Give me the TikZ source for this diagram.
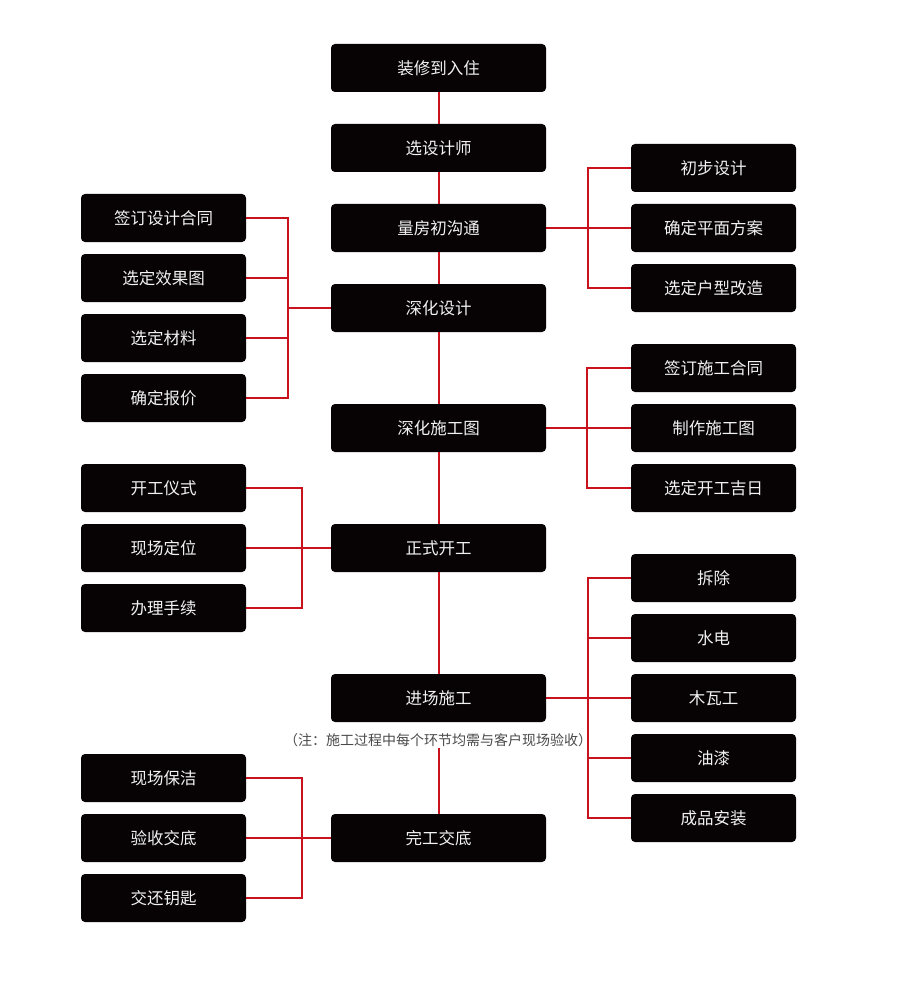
\documentclass[tikz,border=0pt]{standalone}
\usepackage{fontspec}
\setmainfont{Noto Sans CJK SC}
\usetikzlibrary{positioning}
\definecolor{boxfill}{HTML}{070305}
\definecolor{boxtext}{HTML}{F2F2F2}
\definecolor{red}{HTML}{C8121E}
\definecolor{muted}{HTML}{4A4A4A}

\begin{document}
\begin{tikzpicture}[x=1pt,y=-1pt,inner sep=0pt,
  stage/.style={fill=boxfill,rounded corners=4pt,minimum width=215pt,minimum height=48pt,text=boxtext,font=\fontsize{16.5}{18}\selectfont},
  task/.style={stage,minimum width=165pt},
  link/.style={draw=red,line width=2pt}]
  \useasboundingbox[fill=white] (0,0) rectangle (900,1000);
  % bus positions
  \coordinate (busA) at (588,0);
  \coordinate (busB) at (288,0);
  \coordinate (busC) at (587,0);
  \coordinate (busD) at (302,0);
  % main column
  \node[stage] (zx) at (438.5,68) {装修到入住};
  \node[stage] (xs) at (438.5,148) {选设计师};
  \node[stage] (lf) at (438.5,228) {量房初沟通};
  \node[stage] (sj) at (438.5,308) {深化设计};
  \node[stage] (st) at (438.5,428) {深化施工图};
  \node[stage] (kg) at (438.5,548) {正式开工};
  \node[stage] (jc) at (438.5,698) {进场施工};
  \node[font=\fontsize{14}{16}\selectfont,text=muted,inner sep=1pt] (note) at (438,740) {（注：施工过程中每个环节均需与客户现场验收）};
  \node[stage] (wg) at (438.5,838) {完工交底};
  % right column
  \node[task] (r1) at (713.5,168) {初步设计};
  \node[task] (r2) at (713.5,228) {确定平面方案};
  \node[task] (r3) at (713.5,288) {选定户型改造};
  \node[task] (r4) at (713.5,368) {签订施工合同};
  \node[task] (r5) at (713.5,428) {制作施工图};
  \node[task] (r6) at (713.5,488) {选定开工吉日};
  \node[task] (r7) at (713.5,578) {拆除};
  \node[task] (r8) at (713.5,638) {水电};
  \node[task] (r9) at (713.5,698) {木瓦工};
  \node[task] (r10) at (713.5,758) {油漆};
  \node[task] (r11) at (713.5,818) {成品安装};
  % left column
  \node[task] (l1) at (163.5,218) {签订设计合同};
  \node[task] (l2) at (163.5,278) {选定效果图};
  \node[task] (l3) at (163.5,338) {选定材料};
  \node[task] (l4) at (163.5,398) {确定报价};
  \node[task] (l5) at (163.5,488) {开工仪式};
  \node[task] (l6) at (163.5,548) {现场定位};
  \node[task] (l7) at (163.5,608) {办理手续};
  \node[task] (l8) at (163.5,778) {现场保洁};
  \node[task] (l9) at (163.5,838) {验收交底};
  \node[task] (l10) at (163.5,898) {交还钥匙};
  % main line
  \draw[link] (zx) -- (xs);
  \draw[link] (xs) -- (lf);
  \draw[link] (lf) -- (sj);
  \draw[link] (sj) -- (st);
  \draw[link] (st) -- (kg);
  \draw[link] (kg) -- (jc);
  \draw[link] (note.south -| jc) -- (wg);
  % 量房初沟通
  \draw[link] (lf.east) -- (r2.west);
  \draw[link] (r1.west) -| (busA |- r3.west) -- (r3.west);
  % 深化设计
  \draw[link] (l1.east) -| (busB |- l4.east) -- (l4.east);
  \draw[link] (l2.east) -- (l2.east -| busB);
  \draw[link] (l3.east) -- (l3.east -| busB);
  \draw[link] (sj.west) -- (sj.west -| busB);
  % 深化施工图
  \draw[link] (st.east) -- (r5.west);
  \draw[link] (r4.west) -| (busC |- r6.west) -- (r6.west);
  % 正式开工
  \draw[link] (l5.east) -| (busD |- l7.east) -- (l7.east);
  \draw[link] (l6.east) -- (kg.west);
  % 进场施工
  \draw[link] (r7.west) -| (busA |- r11.west) -- (r11.west);
  \draw[link] (r8.west) -- (r8.west -| busA);
  \draw[link] (jc.east) -- (r9.west);
  \draw[link] (r10.west) -- (r10.west -| busA);
  % 完工交底
  \draw[link] (l8.east) -| (busD |- l10.east) -- (l10.east);
  \draw[link] (l9.east) -- (wg.west);
\end{tikzpicture}
\end{document}
